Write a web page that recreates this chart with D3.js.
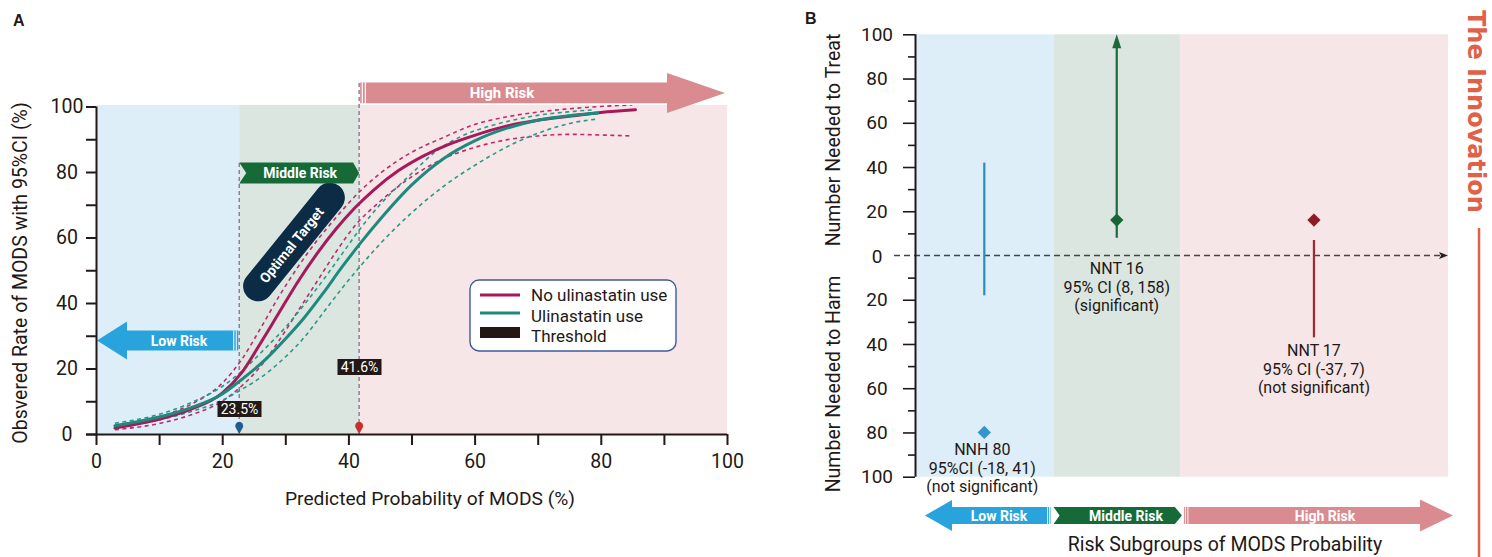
<!DOCTYPE html>
<html><head><meta charset="utf-8">
<script src="https://cdn.jsdelivr.net/npm/d3@7"></script>
<style>
body{margin:0;background:#fff}
svg{font-family:Roboto,"Noto Sans",sans-serif;display:block}
</style></head>
<body><svg id="c" width="1492" height="557"></svg>
<script>
// ---------------- DATA ----------------
// Panel A: calibration curves (predicted % -> observed %)
const noUliX   = [3,5,10,15,20,23,26,29,32,35,38,41,44,48,52,56,60,65,70,75,80,85.5];
const noUliY   = [1.8,2.5,4.5,7.5,12.5,18.5,27.5,37,46.5,55,62.5,69,74.5,80.5,85,88.5,91.2,94,95.8,97,98.2,99];
const noUliCIX = [3,10,15,20,23,26,29,32,35,38,41,45,50,55,60,65,70,75,80,85];
const noUliUp  = [2.3,5.2,9,15.5,22.5,32,42,51,59,66,72.5,79.5,86,90.5,94.5,96.8,98.3,99.3,100,100.5];
const noUliLo  = [1.3,3.2,5.8,10,14.5,20.5,28.5,37.5,46.5,55.5,63.5,71,78.5,84,87.5,89.8,91,91.5,91.3,91];
const uliX     = [3,5,10,15,20,23,27,30,33,36,39,42,45,50,55,60,65,70,75,79.5];
const uliY     = [2.5,3.2,5.2,8,12.2,16.5,23,29,35.5,43,51,58.5,65.5,76,84,89.5,93.3,95.8,97.2,98];
const uliUpX   = [3,10,15,20,23,27,30,33,36,39,42,45,50,54,58,62,66,70,75,79];
const uliUp    = [3.3,6,9.5,14.5,19,26.5,32.5,39.5,47,55,63,70,79.5,86.5,91,93.8,95.8,97.3,98.4,99];
const uliLoX   = [3,10,15,20,23,27,30,33,36,39,42,45,50,55,60,66,70,75,79.6];
const uliLo    = [1.8,4.3,6.8,10.3,13.5,18.5,23.5,29.5,37,44.5,51.5,58,67.5,75.5,82,88.5,91.8,94.8,96.2];
const thresholdPos    = [22.7, 41.7];
const thresholdLabels = ["23.5%", "41.6%"];
const xTicksA = [0,20,40,60,80,100];
const yTicksA = [0,20,40,60,80,100];
const riskNames = ["Low Risk","Middle Risk","High Risk"];
const legendLabels = ["No ulinastatin use","Ulinastatin use","Threshold"];

// Panel B: NNT / NNH by risk subgroup (positive = treat, negative = harm)
const bandEdgesB = [0, 26, 49.7, 100];
const pointB  = [-80, 16, 16];
const ciLowB  = [-18, 8, -37];
const ciHighB = [42, 158, 7];
const annotB  = [
  ["NNH 80","95%CI (-18, 41)","(not significant)"],
  ["NNT 16","95% CI (8, 158)","(significant)"],
  ["NNT 17","95% CI (-37, 7)","(not significant)"]
];
const yTicksB = [-100,-80,-60,-40,-20,20,40,60,80,100];

// ---------------- DRAW ----------------
const svg = d3.select("#c");
const INK = "#231815";
const bandFill = ["#ddeef8","#dae6df","#f6e6e7"];
const MAG = "#a8185b", TEAL = "#1c8a7c";
const MAGD = "#c02a6c", TEALD = "#2a9888";
const FS = 19.5;

// ===== Panel A =====
const xA = d3.scaleLinear().domain([0,100]).range([96,727]);
const yA = d3.scaleLinear().domain([0,100]).range([434,106.5]);
const edgesA = [0, thresholdPos[0], thresholdPos[1], 100];
const gA = svg.append("g");
gA.selectAll("rect.bg").data([0,1,2]).join("rect")
  .attr("x", i => xA(edgesA[i])).attr("width", i => xA(edgesA[i+1]) - xA(edgesA[i]))
  .attr("y", yA(100) - 1.5).attr("height", yA(0) - yA(100) + 1.5)
  .attr("fill", i => bandFill[i]);

gA.append("line").attr("x1", xA(thresholdPos[0])).attr("x2", xA(thresholdPos[0]))
  .attr("y1", 163).attr("y2", yA(0)).attr("stroke","#8a7890").attr("stroke-width",1.4).attr("stroke-dasharray","4,3");
gA.append("line").attr("x1", xA(thresholdPos[1])).attr("x2", xA(thresholdPos[1]))
  .attr("y1", 83).attr("y2", yA(0)).attr("stroke","#8a7890").attr("stroke-width",1.4).attr("stroke-dasharray","4,3");

const mk = (xs, ys) => xs.map((x,i) => [x, ys[i]]);
const line = d3.line().x(d => xA(d[0])).y(d => yA(d[1])).curve(d3.curveMonotoneX);
const dashed = [[mk(noUliCIX,noUliUp),MAGD],[mk(noUliCIX,noUliLo),MAGD],[mk(uliUpX,uliUp),TEALD],[mk(uliLoX,uliLo),TEALD]];
dashed.forEach(([d,c]) => gA.append("path").attr("d", line(d)).attr("fill","none")
  .attr("stroke", c).attr("stroke-width",1.6).attr("stroke-dasharray","4,3.5"));
gA.append("path").attr("d", line(mk(noUliX,noUliY))).attr("fill","none").attr("stroke",MAG).attr("stroke-width",3).attr("stroke-linecap","round");
gA.append("path").attr("d", line(mk(uliX,uliY))).attr("fill","none").attr("stroke",TEAL).attr("stroke-width",3).attr("stroke-linecap","round");

const pill = gA.append("g").attr("transform","translate(294,242) rotate(-51)");
pill.append("rect").attr("x",-72).attr("y",-15).attr("width",144).attr("height",30).attr("rx",15).attr("fill","#0c2b45");
pill.append("text").attr("x",-4).attr("y",5).attr("text-anchor","middle").attr("fill","#fff")
  .attr("font-size",14).attr("font-weight",700).text("Optimal Target");

const hx0 = xA(thresholdPos[1]) + 1, hx1 = 725, hy = 93;
gA.append("path").attr("d",`M${hx0},${hy-10.5}H${hx1-58}V${hy-20}L${hx1},${hy}L${hx1-58},${hy+20}V${hy+10.5}H${hx0}Z`).attr("fill","#d98b8f");
[2.2,5.2].forEach(o => gA.append("line").attr("x1",hx0+o).attr("x2",hx0+o).attr("y1",hy-10.5).attr("y2",hy+10.5).attr("stroke","#fff").attr("stroke-width",1.2));
gA.append("line").attr("x1",hx0).attr("x2",hx1-58).attr("y1",hy+11.3).attr("y2",hy+11.3).attr("stroke","#fff").attr("stroke-width",1.5);
gA.append("text").attr("x",502).attr("y",hy+5).attr("text-anchor","middle").attr("fill","#fff").attr("font-size",15).attr("font-weight",700).text(riskNames[2]);
const mx0 = xA(thresholdPos[0]), mx1 = xA(thresholdPos[1]), my = 173;
gA.append("path").attr("d",`M${mx0},${my-10.5}H${mx1-6}L${mx1},${my}L${mx1-6},${my+10.5}H${mx0}L${mx0+7},${my}Z`).attr("fill","#156a38");
gA.append("text").attr("x",(mx0+mx1)/2+1).attr("y",my+5).attr("text-anchor","middle").attr("fill","#fff").attr("font-size",14).attr("font-weight",700).text(riskNames[1]);
const lx0 = 97, lx1 = xA(thresholdPos[0]) - 1, ly = 340.5;
gA.append("path").attr("d",`M${lx1},${ly-10}H${lx0+30}V${ly-19}L${lx0},${ly}L${lx0+30},${ly+19}V${ly+10}H${lx1}Z`).attr("fill","#29a3dc");
[2,4.5].forEach(o => gA.append("line").attr("x1",lx1-o).attr("x2",lx1-o).attr("y1",ly-10).attr("y2",ly+10).attr("stroke","#fff").attr("stroke-width",1));
gA.append("text").attr("x",179).attr("y",ly+5).attr("text-anchor","middle").attr("fill","#fff").attr("font-size",14).attr("font-weight",700).text(riskNames[0]);

const tlPos = [[239.5,409],[359.5,367]];
thresholdLabels.forEach((t,i) => {
  const [cx,cy] = tlPos[i];
  gA.append("rect").attr("x",cx-22).attr("y",cy-8).attr("width",44).attr("height",16).attr("fill",INK);
  gA.append("text").attr("x",cx).attr("y",cy+5).attr("text-anchor","middle").attr("fill","#fff").attr("font-size",14).text(t);
});
const pinCol = ["#1c5f8e","#c8302e"];
thresholdPos.forEach((p,i) => {
  const x = xA(p);
  gA.append("path").attr("d",`M${x},${yA(0)}L${x-3.6},${yA(0)-6.5}A4 4 0 1 1 ${x+3.6},${yA(0)-6.5}Z`).attr("fill",pinCol[i]);
});

const lg = gA.append("g");
lg.append("rect").attr("x",470).attr("y",280).attr("width",206).attr("height",71).attr("rx",9)
  .attr("fill","#fff").attr("stroke","#3d5b9c").attr("stroke-width",1.4);
lg.append("line").attr("x1",480).attr("x2",520).attr("y1",295).attr("y2",295).attr("stroke",MAG).attr("stroke-width",3);
lg.append("line").attr("x1",480).attr("x2",520).attr("y1",313).attr("y2",313).attr("stroke",TEAL).attr("stroke-width",3);
lg.append("rect").attr("x",480).attr("y",327).attr("width",40).attr("height",11).attr("fill",INK);
legendLabels.forEach((t,i) => lg.append("text").attr("x",531).attr("y",301+i*20.5).attr("font-size",17).attr("fill",INK).text(t));

const axA_x = gA.append("g").attr("transform",`translate(0,${yA(0)})`)
  .call(d3.axisBottom(xA).tickValues(xTicksA).tickSize(11).tickPadding(9).tickFormat(d3.format("d")));
const axA_xm = gA.append("g").attr("transform",`translate(0,${yA(0)})`)
  .call(d3.axisBottom(xA).tickValues([10,30,50,70,90]).tickSize(11).tickFormat(""));
axA_xm.select(".domain").remove();
const axA_y = gA.append("g").attr("transform",`translate(${xA(0)},0)`)
  .call(d3.axisLeft(yA).tickValues(yTicksA).tickSize(10).tickPadding(0).tickFormat(d3.format("d")));
axA_y.selectAll("text").attr("text-anchor","middle").attr("x",-29);
const axA_ym = gA.append("g").attr("transform",`translate(${xA(0)},0)`)
  .call(d3.axisLeft(yA).tickValues([10,30,50,70,90]).tickSize(10).tickFormat(""));
axA_ym.select(".domain").remove();
[axA_x,axA_xm,axA_y,axA_ym].forEach(a => {
  a.selectAll("text").attr("font-size",FS).attr("fill",INK).attr("font-family","Roboto");
  a.selectAll("line").attr("stroke",INK).attr("stroke-width",2);
  a.select(".domain").attr("stroke",INK).attr("stroke-width",2);
});
axA_x.select(".domain").attr("d",`M${86},0.5H${727}`);
axA_y.select(".domain").attr("d",`M0.5,${yA(100)}V${yA(0)}`);

gA.append("text").attr("x",430).attr("y",505).attr("text-anchor","middle").attr("font-size",19.2).attr("fill",INK).text("Predicted Probability of MODS (%)");
gA.append("text").attr("transform","translate(27,273) rotate(-90)").attr("text-anchor","middle").attr("font-size",FS).attr("fill",INK).text("Obsvered Rate of MODS with 95%CI (%)");
svg.append("text").attr("x",13).attr("y",26).attr("font-family","Liberation Sans, Arial").attr("font-weight",700).attr("font-size",16).attr("fill",INK).text("A");

// ===== Panel B =====
const xB = d3.scaleLinear().domain([0,100]).range([915,1448]);
const yB = d3.scaleLinear().domain([-100,100]).range([476.7,34.3]);
const gB = svg.append("g");
gB.selectAll("rect.bg").data([0,1,2]).join("rect")
  .attr("x", i => xB(bandEdgesB[i])).attr("width", i => xB(bandEdgesB[i+1]) - xB(bandEdgesB[i]))
  .attr("y", yB(100)).attr("height", yB(-100) - yB(100))
  .attr("fill", i => bandFill[i]);
gB.append("line").attr("x1",894).attr("x2",xB(100)-6).attr("y1",yB(0)).attr("y2",yB(0))
  .attr("stroke","#444").attr("stroke-width",1.3).attr("stroke-dasharray","6,4");
gB.append("path").attr("d",`M${xB(100)},${yB(0)}L${xB(100)-9},${yB(0)-3.5}L${xB(100)-7},${yB(0)}L${xB(100)-9},${yB(0)+3.5}Z`).attr("fill","#222");

const lineCol = ["#2a8cc4","#1b6b3a","#a3292d"];
const dotCol  = ["#3594c9","#1a6538","#8c1c1f"];
const cx = i => (xB(bandEdgesB[i]) + xB(bandEdgesB[i+1])) / 2;
pointB.forEach((p,i) => {
  const top = Math.min(ciHighB[i], 100);
  const clipped = ciHighB[i] > 100;
  gB.append("line").attr("x1",cx(i)).attr("x2",cx(i))
    .attr("y1", yB(ciLowB[i])).attr("y2", clipped ? yB(top)+12 : yB(top))
    .attr("stroke",lineCol[i]).attr("stroke-width",2.2);
  if (clipped) {
    gB.append("path").attr("d",`M${cx(i)},${yB(100)}L${cx(i)-4.5},${yB(100)+14}L${cx(i)+4.5},${yB(100)+14}Z`).attr("fill",lineCol[i]);
  }
  gB.append("path").attr("d", d3.symbol(d3.symbolSquare, 88)())
    .attr("transform",`translate(${cx(i)},${yB(p)}) rotate(45)`).attr("fill",dotCol[i]);
});
const annY = [449, 268, 350];
annotB.forEach((lines,i) => {
  lines.forEach((t,j) => gB.append("text").attr("x",cx(i) - (i===0?2:0)).attr("y",annY[i]+6+j*18.5)
    .attr("text-anchor","middle").attr("font-size",16).attr("fill",INK).text(t));
});

const axB = gB.append("g").attr("transform",`translate(${xB(0)},0)`)
  .call(d3.axisLeft(yB).tickValues(yTicksB).tickSize(12).tickPadding(0).tickFormat(d => Math.abs(d)));
axB.selectAll("text").attr("text-anchor","middle").attr("x",-38);
const axBm = gB.append("g").attr("transform",`translate(${xB(0)},0)`)
  .call(d3.axisLeft(yB).tickValues([-90,-70,-50,-30,-10,10,30,50,70,90]).tickSize(7).tickFormat(""));
axBm.select(".domain").remove();
[axB,axBm].forEach(a => {
  a.selectAll("text").attr("font-size",19).attr("fill",INK).attr("font-family","Roboto");
  a.selectAll("line").attr("stroke",INK).attr("stroke-width",1.6);
  a.select(".domain").attr("stroke",INK).attr("stroke-width",2);
});
axB.select(".domain").attr("d",`M0.5,${yB(100)}V${yB(-100)}`);
gB.append("text").attr("x",877).attr("y",yB(0)+7).attr("text-anchor","middle").attr("font-size",19).attr("fill",INK).text("0");

gB.append("text").attr("transform","translate(840,140) rotate(-90)").attr("text-anchor","middle").attr("font-size",FS).attr("fill",INK).text("Number Needed to Treat");
gB.append("text").attr("transform","translate(840,384) rotate(-90)").attr("text-anchor","middle").attr("font-size",FS).attr("fill",INK).text("Number Needed to Harm");
svg.append("text").attr("x",805).attr("y",24).attr("font-family","Liberation Sans, Arial").attr("font-weight",700).attr("font-size",16).attr("fill",INK).text("B");

const by = 515.5;
const bx = [xB(bandEdgesB[0])+10, xB(bandEdgesB[1]), xB(bandEdgesB[2]), 1453];
gB.append("path").attr("d",`M${bx[1]-3},${by-8.5}H${bx[0]+27}V${by-15.5}L${bx[0]},${by}L${bx[0]+27},${by+15.5}V${by+8.5}H${bx[1]-3}Z`).attr("fill","#29a3dc");
[1,3].forEach(o => gB.append("line").attr("x1",bx[1]-3-o).attr("x2",bx[1]-3-o).attr("y1",by-8.5).attr("y2",by+8.5).attr("stroke","#fff").attr("stroke-width",0.9));
gB.append("path").attr("d",`M${bx[1]},${by-8.5}H${bx[2]-5}L${bx[2]+2},${by}L${bx[2]-5},${by+8.5}H${bx[1]}L${bx[1]+6},${by}Z`).attr("fill","#156a38");
gB.append("path").attr("d",`M${bx[2]+4},${by-8.5}H${bx[3]-33}V${by-16}L${bx[3]},${by}L${bx[3]-33},${by+16}V${by+8.5}H${bx[2]+4}Z`).attr("fill","#d98b8f");
[1.5,4].forEach(o => gB.append("line").attr("x1",bx[2]+4+o).attr("x2",bx[2]+4+o).attr("y1",by-8.5).attr("y2",by+8.5).attr("stroke","#fff").attr("stroke-width",0.9));
const btx = [999, 1126, 1325];
riskNames.forEach((t,i) => gB.append("text").attr("x",btx[i]).attr("y",by+5).attr("text-anchor","middle")
  .attr("fill","#fff").attr("font-size",14).attr("font-weight",700).text(t));
gB.append("text").attr("x",1225).attr("y",551).attr("text-anchor","middle").attr("font-size",19.5).attr("fill",INK).text("Risk Subgroups of MODS Probability");

svg.append("text").attr("transform","translate(1468,10) rotate(90)").attr("font-family","DejaVu Sans, sans-serif")
  .attr("font-weight",700).attr("font-size",24).attr("fill","#e0614a").text("The Innovation");
svg.append("line").attr("x1",1479).attr("x2",1479).attr("y1",228).attr("y2",557).attr("stroke","#e0614a").attr("stroke-width",2.5);
</script></body></html>
